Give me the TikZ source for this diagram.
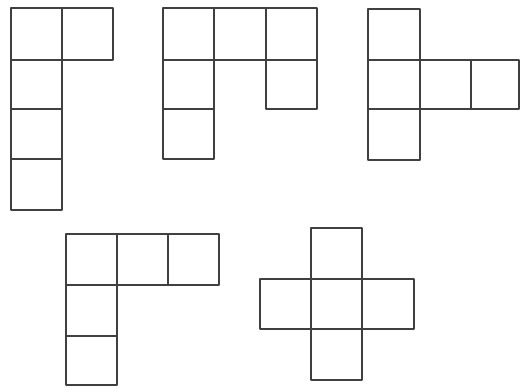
\documentclass[tikz,border=0pt]{standalone}
\begin{document}
\begin{tikzpicture}[x=1pt,y=-1pt,cell/.style={draw=black!75,line width=1.7pt,line join=round}]
\useasboundingbox (0,0) rectangle (520,386);
% shape 1
\draw[cell] (11,8) rectangle (62,60);
\draw[cell] (62,8) rectangle (113,60);
\draw[cell] (11,60) rectangle (62,109);
\draw[cell] (11,109) rectangle (62,159);
\draw[cell] (11,159) rectangle (62,210);
% shape 2
\draw[cell] (163,8) rectangle (214,60);
\draw[cell] (214,8) rectangle (266,60);
\draw[cell] (266,8) rectangle (317,60);
\draw[cell] (163,60) rectangle (214,109);
\draw[cell] (163,109) rectangle (214,159);
\draw[cell] (266,60) rectangle (317,109);
% shape 3
\draw[cell] (368,9) rectangle (420,60);
\draw[cell] (368,60) rectangle (420,109);
\draw[cell] (368,109) rectangle (420,160);
\draw[cell] (420,60) rectangle (471,109);
\draw[cell] (471,60) rectangle (519,109);
% shape 4
\draw[cell] (66,234) rectangle (117,285);
\draw[cell] (117,234) rectangle (168,285);
\draw[cell] (168,234) rectangle (219,285);
\draw[cell] (66,285) rectangle (117,336);
\draw[cell] (66,336) rectangle (117,385);
% shape 5
\draw[cell] (311,228) rectangle (362,279);
\draw[cell] (260,279) rectangle (311,329);
\draw[cell] (311,279) rectangle (362,329);
\draw[cell] (362,279) rectangle (414,329);
\draw[cell] (311,329) rectangle (362,380);
\end{tikzpicture}
\end{document}
